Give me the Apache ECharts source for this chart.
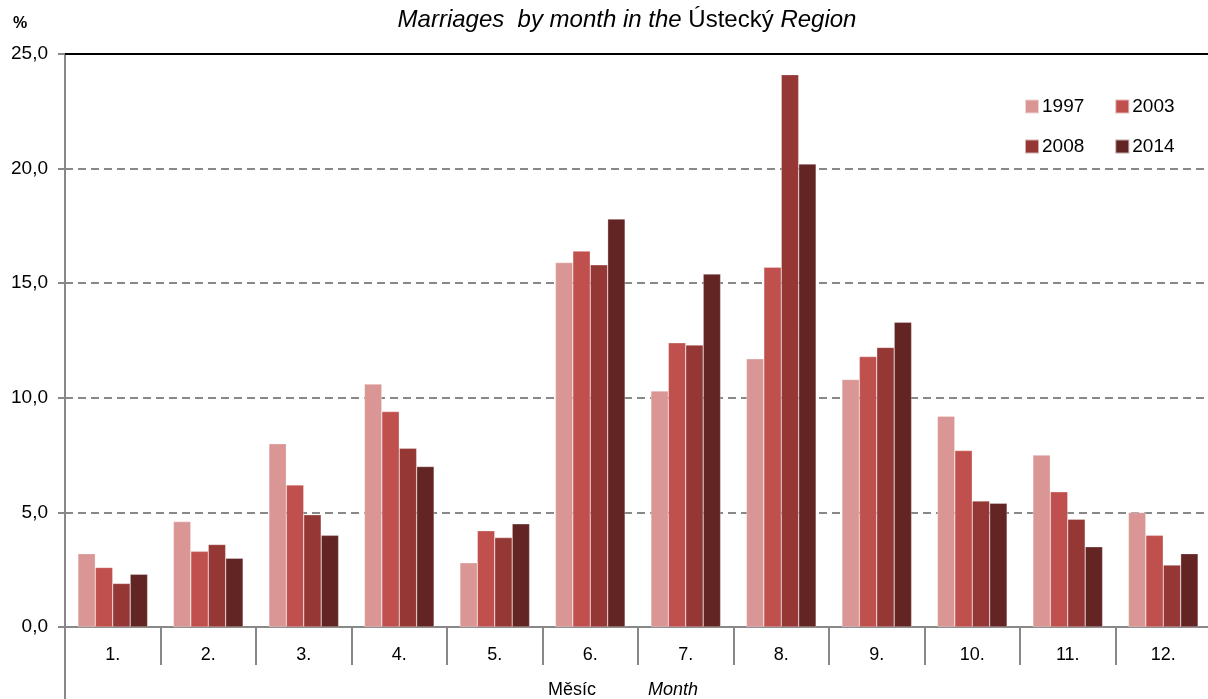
<!DOCTYPE html>
<html>
<head>
<meta charset="utf-8">
<script src="https://cdn.jsdelivr.net/npm/echarts@6/dist/echarts.min.js"></script>
<style>
    html, body { margin: 0; padding: 0; background: #fff; }
    #chart { width: 1208px; height: 699px; }
</style>
</head>
<body>
<div id="chart"></div>
<script>
    // měsíce
    var months = ['1.', '2.', '3.', '4.', '5.', '6.', '7.', '8.', '9.', '10.', '11.', '12.']
    // podíl sňatků v %
    var v1997 = [3.2, 4.6, 8.0, 10.6, 2.8, 15.9, 10.3, 11.7, 10.8, 9.2, 7.5, 5.0]
    var v2003 = [2.6, 3.3, 6.2, 9.4, 4.2, 16.4, 12.4, 15.7, 11.8, 7.7, 5.9, 4.0]
    var v2008 = [1.9, 3.6, 4.9, 7.8, 3.9, 15.8, 12.3, 24.1, 12.2, 5.5, 4.7, 2.7]
    var v2014 = [2.3, 3.0, 4.0, 7.0, 4.5, 17.8, 15.4, 20.2, 13.3, 5.4, 3.5, 3.2]
    var years = ['1997', '2003', '2008', '2014']
    var colors = ['#D99694', '#C0504D', '#953735', '#632523']

    var font = 'Liberation Sans, Arial, sans-serif'
    var chart = echarts.init(document.getElementById('chart'))

    var series = [v1997, v2003, v2008, v2014].map(function (d, i) {
        return {
            name: years[i],
            type: 'bar',
            data: d,
            barGap: '0%',
            barCategoryGap: '27%',
            itemStyle: {
                color: colors[i],
                borderColor: 'rgba(255,255,255,0.6)',
                borderWidth: 0.5
            }
        }
    })

    var legendBase = {
        icon: 'rect',
        itemWidth: 14,
        itemHeight: 14,
        itemGap: 30,
        textStyle: { fontFamily: font, fontSize: 19, color: '#000', padding: [0, 0, 0, -2] }
    }

    chart.setOption({
        animation: false,
        color: colors,
        textStyle: { fontFamily: font },
        title: [{
            text: '{i|Marriages  by month in the }{n|Ústecký }{i|Region}',
            left: 622,
            textAlign: 'center',
            top: 3,
            textStyle: {
                fontWeight: 'normal',
                rich: {
                    i: { fontFamily: font, fontSize: 24, fontStyle: 'italic', fontWeight: 'normal', color: '#000' },
                    n: { fontFamily: font, fontSize: 24, fontWeight: 'normal', color: '#000' }
                }
            }
        }, {
            text: '%',
            left: 8,
            top: 11,
            textStyle: { fontFamily: font, fontSize: 16, fontWeight: 'bold', color: '#000' }
        }],
        legend: [
            Object.assign({ data: ['1997', '2003'], left: 1019, top: 92 }, legendBase),
            Object.assign({ data: ['2008', '2014'], left: 1019, top: 132 }, legendBase)
        ],
        grid: { left: 65, right: -3, top: 54, bottom: 72, outerBoundsMode: 'none', containLabel: false },
        xAxis: [{
            type: 'category',
            data: months,
            axisLine: { lineStyle: { color: '#888', width: 2 } },
            axisTick: { show: true, interval: 0, length: 38, lineStyle: { color: '#888', width: 2 } },
            axisLabel: { margin: 19, fontSize: 18, color: '#000', fontFamily: font },
            name: '{n|Měsíc}{i|Month}',
            nameLocation: 'middle',
            nameGap: 54,
            nameTextStyle: {
                rich: {
                    n: { fontFamily: font, fontSize: 18, color: '#000', padding: [0, 52, 0, 0] },
                    i: { fontFamily: font, fontSize: 18, fontStyle: 'italic', color: '#000', padding: [0, 30, 0, 0] }
                }
            }
        }, {
            type: 'category',
            position: 'top',
            data: months,
            axisLine: { lineStyle: { color: '#000', width: 2 } },
            axisTick: { show: false },
            axisLabel: { show: false }
        }],
        yAxis: {
            type: 'value',
            min: 0,
            max: 25,
            interval: 5,
            axisLine: { show: true, lineStyle: { color: '#888', width: 2 } },
            axisTick: { show: true, length: 7, lineStyle: { color: '#888', width: 2 } },
            axisLabel: {
                fontSize: 19,
                color: '#000',
                fontFamily: font,
                margin: 17,
                formatter: function (v) { return v.toFixed(1).replace('.', ',') }
            },
            splitLine: { lineStyle: { color: '#888', width: 2, type: [8, 5] } }
        },
        series: series
    })

    // svislá čára osy pokračuje až dolů pod popisky
    var y0 = chart.convertToPixel({ yAxisIndex: 0 }, 0)
    var step = chart.convertToPixel({ xAxisIndex: 0 }, 1) - chart.convertToPixel({ xAxisIndex: 0 }, 0)
    var leftX = chart.convertToPixel({ xAxisIndex: 0 }, 0) - step / 2
    chart.setOption({
        graphic: [{
            type: 'line',
            shape: { x1: leftX, y1: y0, x2: leftX, y2: 699 },
            style: { stroke: '#888', lineWidth: 2 }
        }]
    })
</script>
</body>
</html>
